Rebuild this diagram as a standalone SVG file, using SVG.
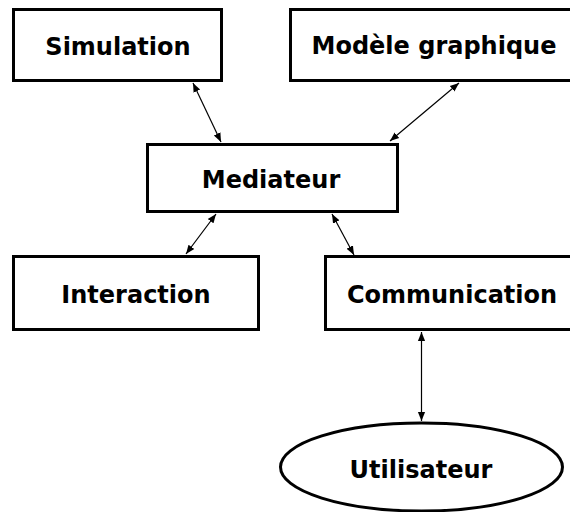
<svg xmlns="http://www.w3.org/2000/svg" width="570" height="512" viewBox="0 0 570 512">
<style>
.box{fill:#fff;stroke:#000;stroke-width:3}
.lbl{font-family:"DejaVu Sans",sans-serif;font-weight:bold;font-size:24px;text-anchor:middle;fill:#000}
.con{stroke:#000;stroke-width:1.2;fill:none;marker-start:url(#ah);marker-end:url(#ah)}
</style>
<defs>
<marker id="ah" viewBox="0 0 10 10" refX="10" refY="5" markerWidth="9" markerHeight="9" markerUnits="userSpaceOnUse" orient="auto-start-reverse">
<path d="M0,1 L10,5 L0,9 z" fill="#000"/>
</marker>
</defs>
<rect width="570" height="512" fill="#fff"/>
<g id="simulation"><rect class="box" x="13.5" y="9.5" width="208" height="71"/><text class="lbl" x="118" y="55">Simulation</text></g>
<g id="modele"><rect class="box" x="290.5" y="9.5" width="287" height="71"/><text class="lbl" x="434" y="54">Modèle graphique</text></g>
<g id="mediateur"><rect class="box" x="147.5" y="144.5" width="250" height="67"/><text class="lbl" x="271" y="188">Mediateur</text></g>
<g id="interaction"><rect class="box" x="13.5" y="256.5" width="245" height="73"/><text class="lbl" x="136" y="303">Interaction</text></g>
<g id="communication"><rect class="box" x="325.5" y="256.5" width="254" height="73"/><text class="lbl" x="452" y="303">Communication</text></g>
<g id="utilisateur"><ellipse class="box" cx="421.5" cy="467" rx="141" ry="44" stroke-width="2.5"/><text class="lbl" x="421" y="478">Utilisateur</text></g>
<g id="connectors">
<line class="con" x1="193" y1="83" x2="221" y2="142"/>
<line class="con" x1="459" y1="83" x2="390" y2="141"/>
<line class="con" x1="216" y1="214" x2="186" y2="254"/>
<line class="con" x1="332" y1="214" x2="354" y2="255"/>
<line class="con" x1="421.5" y1="332" x2="421.5" y2="421"/>
</g>
</svg>
